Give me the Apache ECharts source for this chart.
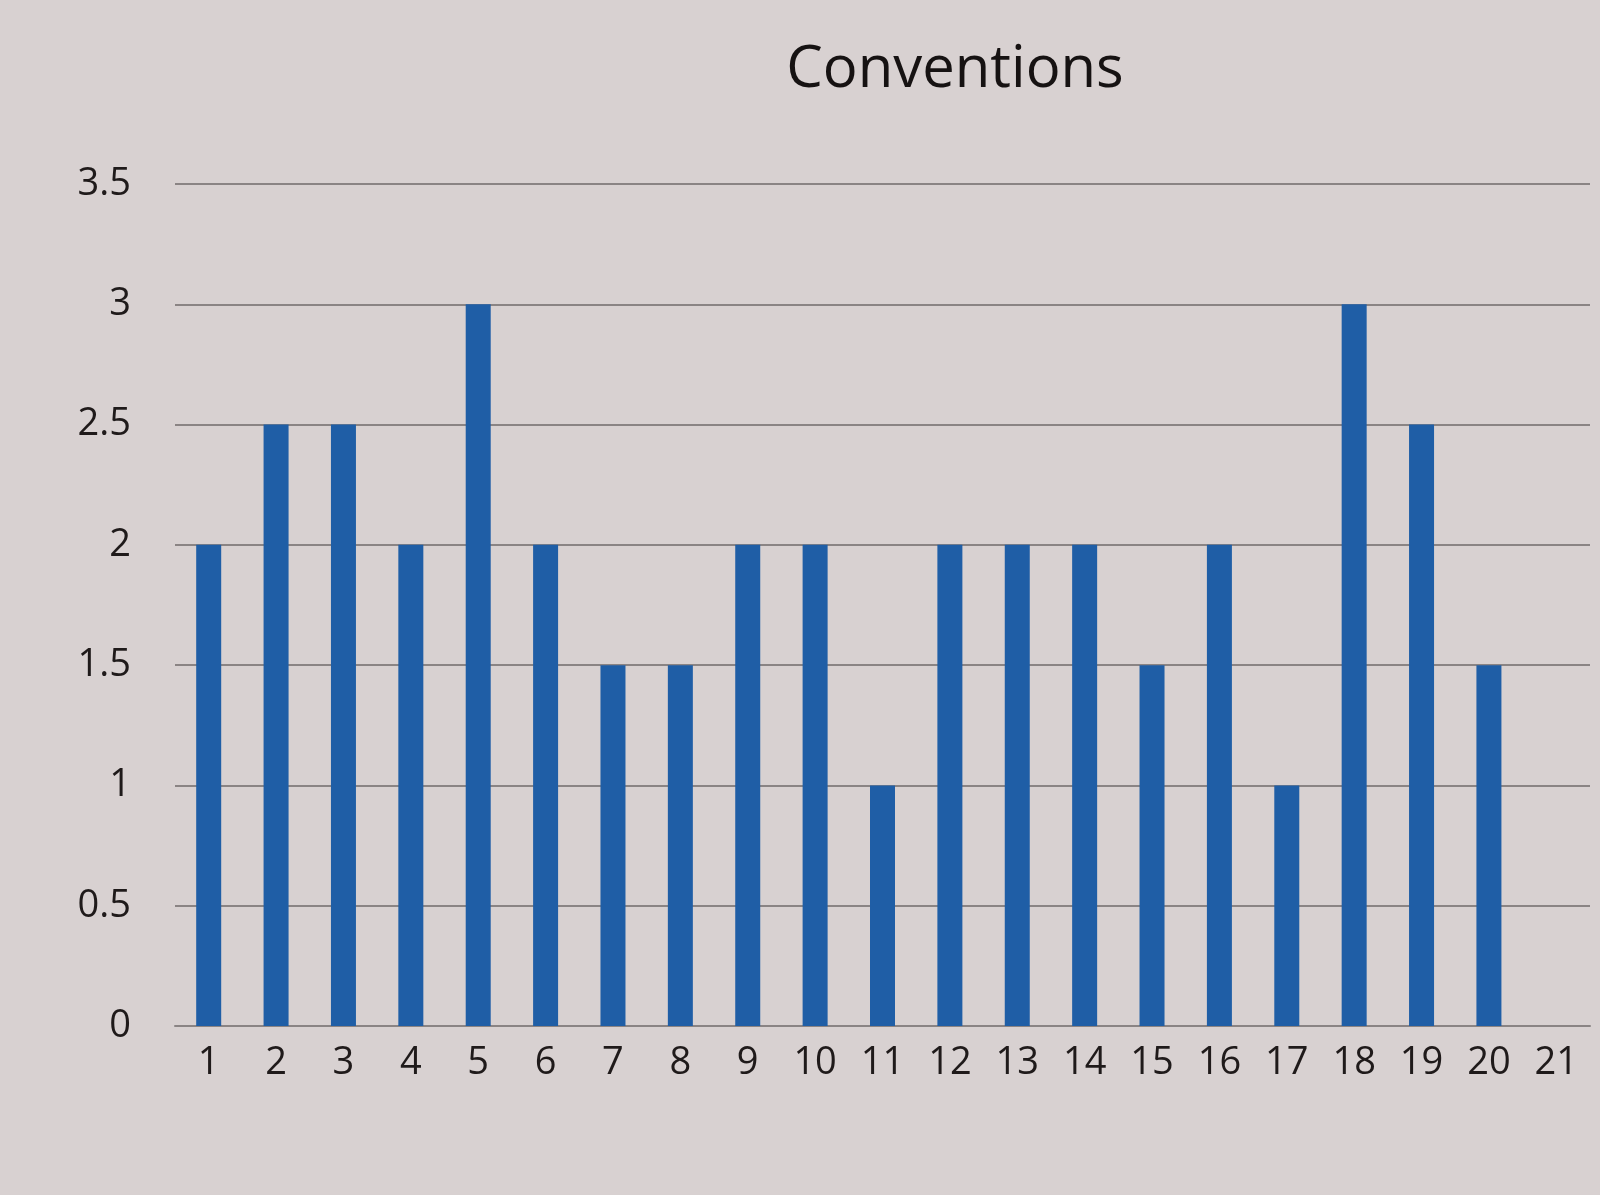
<!DOCTYPE html>
<html>
<head>
<meta charset="utf-8">
<script src="https://cdn.jsdelivr.net/npm/echarts@6/dist/echarts.min.js"></script>
<style>
html,body{margin:0;padding:0;background:#d8d1d1;}
#chart{width:1600px;height:1195px;}
</style>
</head>
<body>
<div id="chart"></div>
<script>
const categories = ['1','2','3','4','5','6','7','8','9','10','11','12','13','14','15','16','17','18','19','20','21'];
const values = [2, 2.5, 2.5, 2, 3, 2, 1.5, 1.5, 2, 2, 1, 2, 2, 2, 1.5, 2, 1, 3, 2.5, 1.5, null];
const yTicks = [0, 0.5, 1, 1.5, 2, 2.5, 3, 3.5];

const chart = echarts.init(document.getElementById('chart'));
chart.setOption({
  backgroundColor: '#d8d1d1',
  title: {
    text: 'Conventions',
    left: 950,
    textAlign: 'center',
    top: 36,
    textStyle: {fontFamily: 'Open Sans', fontSize: 58, fontWeight: 500, color: '#161212'}
  },
  grid: {left: 175, right: 10, top: 184, bottom: 169},
  xAxis: {
    type: 'category',
    data: categories,
    axisLine: {show: true, lineStyle: {color: '#8a8484', width: 2}},
    axisTick: {show: false},
    axisLabel: {fontFamily: 'Open Sans', fontSize: 38, color: '#1f1a1a', margin: 18}
  },
  yAxis: {
    type: 'value',
    min: yTicks[0],
    max: yTicks[yTicks.length - 1],
    interval: 0.5,
    axisLine: {show: false},
    axisTick: {show: false},
    splitLine: {lineStyle: {color: '#8a8484', width: 2}},
    axisLabel: {fontFamily: 'Open Sans', fontSize: 38, color: '#1f1a1a', margin: 44}
  },
  series: [{
    type: 'bar',
    data: values,
    barWidth: 25,
    itemStyle: {color: '#1f5ea6'}
  }]
});
</script>
</body>
</html>
